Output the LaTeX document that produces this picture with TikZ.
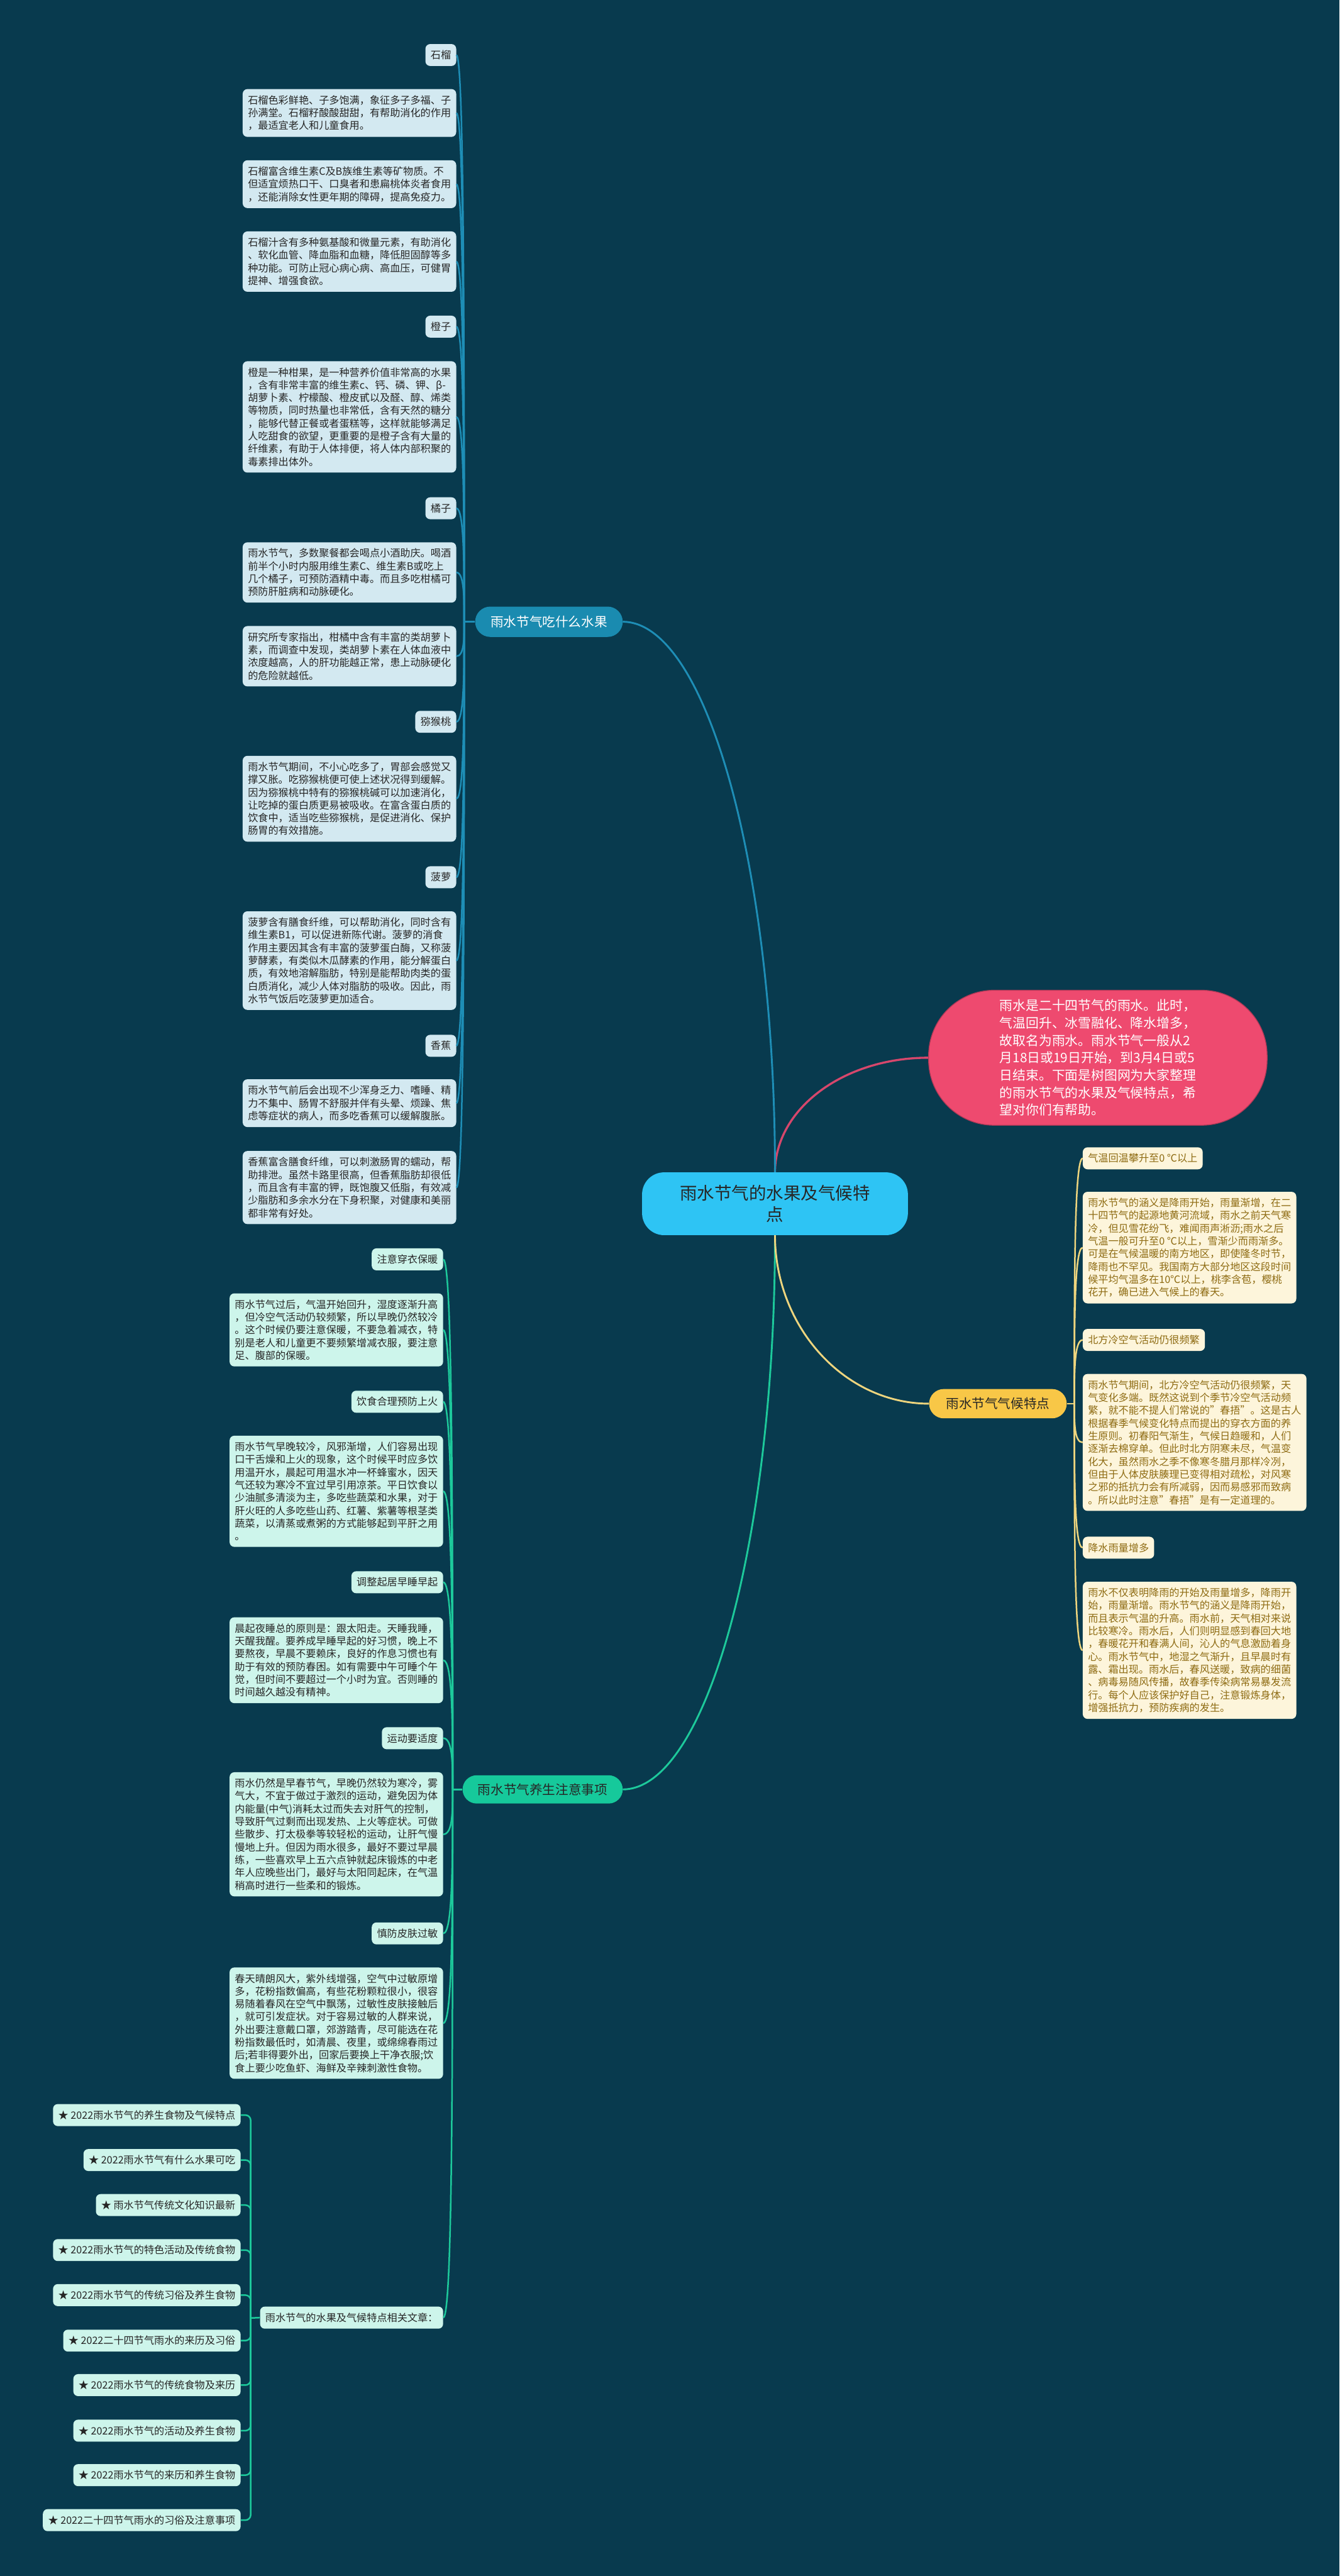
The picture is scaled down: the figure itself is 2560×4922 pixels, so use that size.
\documentclass[tikz,border=0pt]{standalone}
\usepackage{fontspec}
\setmainfont{Noto Sans CJK SC}
\usetikzlibrary{calc}
\definecolor{bgc}{HTML}{083A4E}
\definecolor{bluefill}{HTML}{D3E9F1}
\definecolor{greenfill}{HTML}{CDF5EB}
\definecolor{yellowfill}{HTML}{FDF5DB}
\definecolor{yellowtext}{HTML}{8E6B12}
\definecolor{darktext}{HTML}{262626}
\definecolor{bluenode}{HTML}{1A8BB0}
\definecolor{greennode}{HTML}{16C99B}
\definecolor{yellownode}{HTML}{F8C747}
\definecolor{centernode}{HTML}{2EC4F4}
\definecolor{rednode}{HTML}{EE4A6F}
\definecolor{blueline}{HTML}{1E8EB6}
\definecolor{greenline}{HTML}{1DC99B}
\definecolor{yellowline}{HTML}{EED57E}
\definecolor{redline}{HTML}{D6476C}
\newcommand\myfs[2]{\fontsize{#1}{#2}\selectfont}
\begin{document}
\begin{tikzpicture}[x=1pt,y=-1pt,
  base/.style={font=\myfs{19.4}{24.4}, align=left, inner xsep=10pt, inner ysep=12pt, rounded corners=9pt},
  bbox/.style={base, fill=bluefill, text=darktext, anchor=north east},
  gbox/.style={base, fill=greenfill, text=darktext, anchor=north east},
  ybox/.style={base, fill=yellowfill, text=yellowtext, anchor=north west},
  bline/.style={draw=blueline, line width=3pt},
  gline/.style={draw=greenline, line width=3pt},
  yline/.style={draw=yellowline, line width=3pt},
  mainnode/.style={font=\myfs{24.8}{30}, inner sep=0pt, align=center}
]
\useasboundingbox (0,0) rectangle (2560,4922);
\fill[bgc] (0,0) rectangle (2560,4922);

% ---------- central and main branches ----------
\node[mainnode, fill=centernode, text=darktext, font=\myfs{33}{41}, minimum width=508pt, minimum height=120pt, rounded corners=42pt] (ctr) at (1481,2300) {雨水节气的水果及气候特\\点};

\node[fill=rednode, draw=redline!80!black, line width=1.5pt, text=white, font=\myfs{25}{33.3}, align=left, minimum width=647pt, minimum height=258pt, rounded corners=125pt, inner sep=0pt] (red) at (2098,2021) {雨水是二十四节气的雨水。此时，\\气温回升、冰雪融化、降水增多，\\故取名为雨水。雨水节气一般从2\\月18日或19日开始，到3月4日或5\\日结束。下面是树图网为大家整理\\的雨水节气的水果及气候特点，希\\望对你们有帮助。};

\node[mainnode, fill=bluenode, text=white, minimum width=282pt, minimum height=58pt, rounded corners=29pt] (bn) at (1049,1188) {雨水节气吃什么水果};
\node[mainnode, fill=greennode, text=darktext, minimum width=306pt, minimum height=54pt, rounded corners=27pt] (gn) at (1037,3419) {雨水节气养生注意事项};
\node[mainnode, fill=yellownode, text=darktext, minimum width=263pt, minimum height=56pt, rounded corners=28pt] (yn) at (1907,2682) {雨水节气气候特点};

\draw[draw=redline, line width=4pt] (ctr.north) .. controls +(0,-121) and +(-162,0) .. (red.west);
\draw[bline, line width=3.5pt] (ctr.north) .. controls +(0,-580) and +(160,0) .. (bn.east);
\draw[gline, line width=3.5pt] (ctr.south) .. controls +(0,580) and +(160,0) .. (gn.east);
\draw[yline, line width=3.5pt] (ctr.south) .. controls +(0,175) and +(-162,0) .. (yn.west);

% ---------- blue branch ----------
\node[bbox] (bl1) at (872,84) {石榴};
\node[bbox] (bb1) at (872,170) {石榴色彩鲜艳、子多饱满，象征多子多福、子\\孙满堂。石榴籽酸酸甜甜，有帮助消化的作用\\，最适宜老人和儿童食用。};
\node[bbox] (bb2) at (872,306) {石榴富含维生素C及B族维生素等矿物质。不\\但适宜烦热口干、口臭者和患扁桃体炎者食用\\，还能消除女性更年期的障碍，提高免疫力。};
\node[bbox] (bb3) at (872,442) {石榴汁含有多种氨基酸和微量元素，有助消化\\、软化血管、降血脂和血糖，降低胆固醇等多\\种功能。可防止冠心病心病、高血压，可健胃\\提神、增强食欲。};
\node[bbox] (bl2) at (872,603) {橙子};
\node[bbox] (bb4) at (872,690) {橙是一种柑果，是一种营养价值非常高的水果\\，含有非常丰富的维生素c、钙、磷、钾、β-\\胡萝卜素、柠檬酸、橙皮甙以及醛、醇、烯类\\等物质，同时热量也非常低，含有天然的糖分\\，能够代替正餐或者蛋糕等，这样就能够满足\\人吃甜食的欲望，更重要的是橙子含有大量的\\纤维素，有助于人体排便，将人体内部积聚的\\毒素排出体外。};
\node[bbox] (bl3) at (872,950) {橘子};
\node[bbox] (bb5) at (872,1036) {雨水节气，多数聚餐都会喝点小酒助庆。喝酒\\前半个小时内服用维生素C、维生素B或吃上\\几个橘子，可预防酒精中毒。而且多吃柑橘可\\预防肝脏病和动脉硬化。};
\node[bbox] (bb6) at (872,1196) {研究所专家指出，柑橘中含有丰富的类胡萝卜\\素，而调查中发现，类胡萝卜素在人体血液中\\浓度越高，人的肝功能越正常，患上动脉硬化\\的危险就越低。};
\node[bbox] (bl4) at (872,1358) {猕猴桃};
\node[bbox] (bb7) at (872,1444) {雨水节气期间，不小心吃多了，胃部会感觉又\\撑又胀。吃猕猴桃便可使上述状况得到缓解。\\因为猕猴桃中特有的猕猴桃碱可以加速消化，\\让吃掉的蛋白质更易被吸收。在富含蛋白质的\\饮食中，适当吃些猕猴桃，是促进消化、保护\\肠胃的有效措施。};
\node[bbox] (bl5) at (872,1655) {菠萝};
\node[bbox] (bb8) at (872,1741) {菠萝含有膳食纤维，可以帮助消化，同时含有\\维生素B1，可以促进新陈代谢。菠萝的消食\\作用主要因其含有丰富的菠萝蛋白酶，又称菠\\萝酵素，有类似木瓜酵素的作用，能分解蛋白\\质，有效地溶解脂肪，特别是能帮助肉类的蛋\\白质消化，减少人体对脂肪的吸收。因此，雨\\水节气饭后吃菠萝更加适合。};
\node[bbox] (bl6) at (872,1977) {香蕉};
\node[bbox] (bb9) at (872,2062) {雨水节气前后会出现不少浑身乏力、嗜睡、精\\力不集中、肠胃不舒服并伴有头晕、烦躁、焦\\虑等症状的病人，而多吃香蕉可以缓解腹胀。};
\node[bbox] (bb10) at (872,2199) {香蕉富含膳食纤维，可以刺激肠胃的蠕动，帮\\助排泄。虽然卡路里很高，但香蕉脂肪却很低\\，而且含有丰富的钾，既饱腹又低脂，有效减\\少脂肪和多余水分在下身积聚，对健康和美丽\\都非常有好处。};

\coordinate (JB) at (887,1188);
\draw[bline] (bn.west) -- (JB);
\foreach \n in {bl1,bb1,bb2,bb3,bl2,bb4,bl3,bb5,bb6,bl4,bb7,bl5,bb8,bl6,bb9,bb10}
  \draw[bline] (JB) .. controls ($(JB)!0.5!(JB|-\n.east)$) and (JB|-\n.east) .. (\n.east);

% ---------- green branch ----------
\node[gbox] (gl1) at (847,2385) {注意穿衣保暖};
\node[gbox] (gb1) at (847,2471) {雨水节气过后，气温开始回升，湿度逐渐升高\\，但冷空气活动仍较频繁，所以早晚仍然较冷\\。这个时候仍要注意保暖，不要急着减衣，特\\别是老人和儿童更不要频繁增减衣服，要注意\\足、腹部的保暖。};
\node[gbox] (gl2) at (847,2657) {饮食合理预防上火};
\node[gbox] (gb2) at (847,2743) {雨水节气早晚较冷，风邪渐增，人们容易出现\\口干舌燥和上火的现象，这个时候平时应多饮\\用温开水，晨起可用温水冲一杯蜂蜜水，因天\\气还较为寒冷不宜过早引用凉茶。平日饮食以\\少油腻多清淡为主，多吃些蔬菜和水果，对于\\肝火旺的人多吃些山药、红薯、紫薯等根茎类\\蔬菜，以清蒸或煮粥的方式能够起到平肝之用\\。};
\node[gbox] (gl3) at (847,3002) {调整起居早睡早起};
\node[gbox] (gb3) at (847,3090) {晨起夜睡总的原则是：跟太阳走。天睡我睡，\\天醒我醒。要养成早睡早起的好习惯，晚上不\\要熬夜，早晨不要赖床，良好的作息习惯也有\\助于有效的预防春困。如有需要中午可睡个午\\觉，但时间不要超过一个小时为宜。否则睡的\\时间越久越没有精神。};
\node[gbox] (gl4) at (847,3300) {运动要适度};
\node[gbox] (gb4) at (847,3386) {雨水仍然是早春节气，早晚仍然较为寒冷，雾\\气大，不宜于做过于激烈的运动，避免因为体\\内能量(中气)消耗太过而失去对肝气的控制，\\导致肝气过剩而出现发热、上火等症状。可做\\些散步、打太极拳等较轻松的运动，让肝气慢\\慢地上升。但因为雨水很多，最好不要过早晨\\练，一些喜欢早上五六点钟就起床锻炼的中老\\年人应晚些出门，最好与太阳同起床，在气温\\稍高时进行一些柔和的锻炼。};
\node[gbox] (gl5) at (847,3673) {慎防皮肤过敏};
\node[gbox] (gb5) at (847,3759) {春天晴朗风大，紫外线增强，空气中过敏原增\\多，花粉指数偏高，有些花粉颗粒很小，很容\\易随着春风在空气中飘荡，过敏性皮肤接触后\\，就可引发症状。对于容易过敏的人群来说，\\外出要注意戴口罩，郊游踏青，尽可能选在花\\粉指数最低时，如清晨、夜里，或绵绵春雨过\\后;若非得要外出，回家后要换上干净衣服;饮\\食上要少吃鱼虾、海鲜及辛辣刺激性食物。};
\node[gbox] (rel) at (847,4407) {雨水节气的水果及气候特点相关文章：};

\coordinate (JG) at (865,3419);
\draw[gline] (gn.west) -- (JG);
\foreach \n in {gl1,gb1,gl2,gb2,gl3,gb3,gl4,gb4,gl5,gb5,rel}
  \draw[gline] (JG) .. controls ($(JG)!0.5!(JG|-\n.east)$) and (JG|-\n.east) .. (\n.east);

% ---------- related articles ----------
\node[gbox] (s1) at (460,4020) {★ 2022雨水节气的养生食物及气候特点};
\node[gbox] (s2) at (460,4106) {★ 2022雨水节气有什么水果可吃};
\node[gbox] (s3) at (460,4192) {★ 雨水节气传统文化知识最新};
\node[gbox] (s4) at (460,4278) {★ 2022雨水节气的特色活动及传统食物};
\node[gbox] (s5) at (460,4364) {★ 2022雨水节气的传统习俗及养生食物};
\node[gbox] (s6) at (460,4451) {★ 2022二十四节气雨水的来历及习俗};
\node[gbox] (s7) at (460,4536) {★ 2022雨水节气的传统食物及来历};
\node[gbox] (s8) at (460,4623) {★ 2022雨水节气的活动及养生食物};
\node[gbox] (s9) at (460,4708) {★ 2022雨水节气的来历和养生食物};
\node[gbox] (s10) at (460,4794) {★ 2022二十四节气雨水的习俗及注意事项};

\coordinate (JS) at (479,4429);
\draw[gline] (rel.west) -- (JS);
\foreach \n in {s1,s2,s3,s4,s5,s6,s7,s8,s9,s10}
  \draw[gline, rounded corners=10pt] (JS) |- (\n.east);

% ---------- yellow branch ----------
\node[ybox] (yl1) at (2069,2192) {气温回温攀升至0 ℃以上};
\node[ybox] (yb1) at (2069,2277) {雨水节气的涵义是降雨开始，雨量渐增，在二\\十四节气的起源地黄河流域，雨水之前天气寒\\冷，但见雪花纷飞，难闻雨声淅沥;雨水之后\\气温一般可升至0 ℃以上，雪渐少而雨渐多。\\可是在气候温暖的南方地区，即使隆冬时节，\\降雨也不罕见。我国南方大部分地区这段时间\\候平均气温多在10℃以上，桃李含苞，樱桃\\花开，确已进入气候上的春天。};
\node[ybox] (yl2) at (2069,2539) {北方冷空气活动仍很频繁};
\node[ybox] (yb2) at (2069,2625) {雨水节气期间，北方冷空气活动仍很频繁，天\\气变化多端。既然这说到个季节冷空气活动频\\繁，就不能不提人们常说的"春捂"。这是古人\\根据春季气候变化特点而提出的穿衣方面的养\\生原则。初春阳气渐生，气候日趋暖和，人们\\逐渐去棉穿单。但此时北方阴寒未尽，气温变\\化大，虽然雨水之季不像寒冬腊月那样冷冽，\\但由于人体皮肤腠理已变得相对疏松，对风寒\\之邪的抵抗力会有所减弱，因而易感邪而致病\\。所以此时注意"春捂"是有一定道理的。};
\node[ybox] (yl3) at (2069,2936) {降水雨量增多};
\node[ybox] (yb3) at (2069,3022) {雨水不仅表明降雨的开始及雨量增多，降雨开\\始，雨量渐增。雨水节气的涵义是降雨开始，\\而且表示气温的升高。雨水前，天气相对来说\\比较寒冷。雨水后，人们则明显感到春回大地\\，春暖花开和春满人间，沁人的气息激励着身\\心。雨水节气中，地湿之气渐升，且早晨时有\\露、霜出现。雨水后，春风送暖，致病的细菌\\、病毒易随风传播，故春季传染病常易暴发流\\行。每个人应该保护好自己，注意锻炼身体，\\增强抵抗力，预防疾病的发生。};

\coordinate (JY) at (2053,2682);
\draw[yline] (yn.east) -- (JY);
\foreach \n in {yl1,yb1,yl2,yb2,yl3,yb3}
  \draw[yline] (JY) .. controls ($(JY)!0.5!(JY|-\n.west)$) and (JY|-\n.west) .. (\n.west);
\end{tikzpicture}
\end{document}
